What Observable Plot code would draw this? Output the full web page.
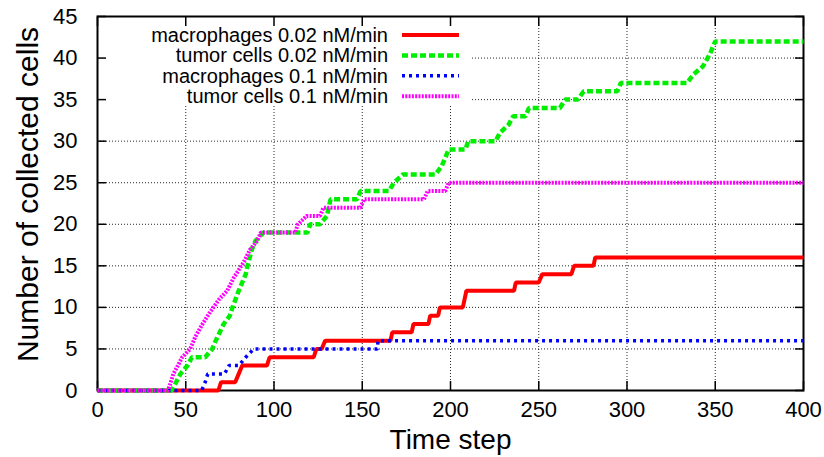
<!DOCTYPE html>
<html>
<head>
<meta charset="utf-8">
<script src="https://cdn.jsdelivr.net/npm/d3@7"></script>
<script src="https://cdn.jsdelivr.net/npm/@observablehq/plot@0.6"></script>
<style>
  body { margin: 0; background: #fff; }
  svg { display: block; }
</style>
</head>
<body>
<div id="chart"></div>
<script>
// Cumulative number of collected cells per time step, one series per cell type and rate.
const seriesNames = [
  "macrophages 0.02 nM/min",
  "tumor cells 0.02 nM/min",
  "macrophages 0.1 nM/min",
  "tumor cells 0.1 nM/min"
];

const macro002Time = [0, 68.5, 70, 78, 80, 82, 96, 97.5, 122.5, 124, 127, 129, 166, 167, 178, 179, 187.5, 188.5, 193, 194, 207, 209, 236, 237, 250, 252, 268.5, 270, 281, 282, 400];
const macro002Count = [0, 0, 1, 1, 2, 3, 3, 4, 4, 5, 5, 6, 6, 7, 7, 8, 8, 9, 9, 10, 10, 12, 12, 13, 13, 14, 14, 15, 15, 16, 16];

const tumor002Time = [0, 42, 44.5, 47, 51, 53.5, 61, 65, 67, 71.5, 75, 76.5, 80, 84, 85, 87.5, 89.5, 94, 119, 120.5, 126, 130, 132, 147, 149, 165, 168, 173, 191.5, 195, 197, 199, 208.5, 210, 225.5, 228, 233, 235.5, 242.5, 244.5, 262, 265, 272, 275.5, 294.5, 296.5, 334, 337.5, 343, 347, 350, 400];
const tumor002Count = [0, 0, 1, 2, 3, 4, 4, 5, 6, 8, 9, 10, 12, 14, 15, 17, 18, 19, 19, 20, 20, 21, 23, 23, 24, 24, 25, 26, 26, 27, 28, 29, 29, 30, 30, 31, 32, 33, 33, 34, 34, 35, 35, 36, 36, 37, 37, 38, 39, 40.5, 42, 42];

const macro01Time = [0, 59, 61, 62.5, 72, 74.5, 80, 84, 88.5, 158.5, 159, 400];
const macro01Count = [0, 0, 1, 2, 2, 3, 3, 4, 5, 5, 6, 6];

const tumor01Time = [0, 40, 43, 48, 52.5, 55.5, 59.5, 64, 69, 73.5, 77, 83, 86.5, 90.5, 92.5, 112, 113.5, 118.5, 126, 128, 149, 151, 185, 187, 197, 199, 400];
const tumor01Count = [0, 0, 2, 4, 5, 6.5, 8, 9.5, 11, 12, 13.5, 15.5, 17, 18, 19, 19, 20, 21, 21, 22, 22, 23, 23, 24, 24, 25, 25];

const xTicks = [0, 50, 100, 150, 200, 250, 300, 350, 400];
const yTicks = [0, 5, 10, 15, 20, 25, 30, 35, 40, 45];

const seriesData = [
  [macro002Time, macro002Count],
  [tumor002Time, tumor002Count],
  [macro01Time, macro01Count],
  [tumor01Time, tumor01Count]
];

const styles = [
  {stroke: "#ff0000", strokeWidth: 4, strokeDasharray: null},
  {stroke: "#00ee00", strokeWidth: 4.5, strokeDasharray: "6,3"},
  {stroke: "#0000ff", strokeWidth: 3.5, strokeDasharray: "3,4"},
  {stroke: "#ff00ff", strokeWidth: 4, strokeDasharray: "2,1.3"}
];

const rows = seriesData.map(([ts, ns], i) =>
  ts.map((t, j) => ({series: seriesNames[i], t, n: ns[j]}))
);

const font = "'Liberation Sans', Arial, Helvetica, sans-serif";
const gridStyle = {stroke: "#000", strokeOpacity: 0.85, strokeWidth: 1, strokeDasharray: "1,2"};

const chart = Plot.plot({
  width: 824,
  height: 457,
  marginLeft: 97,
  marginRight: 21,
  marginTop: 16,
  marginBottom: 67,
  style: {fontFamily: font, fontSize: "22px", color: "#000", background: "#fff"},
  x: {domain: [0, 400]},
  y: {domain: [0, 45]},
  marks: [
    Plot.gridX(xTicks, gridStyle),
    Plot.gridY(yTicks, gridStyle),
    // inward ticks on all four sides
    Plot.axisX(xTicks, {anchor: "bottom", tickSize: 9, dy: -9, fill: "none", label: null, strokeWidth: 1.5}),
    Plot.axisX(xTicks, {anchor: "top", tickSize: 9, dy: 9, fill: "none", label: null, strokeWidth: 1.5}),
    Plot.axisY(yTicks, {anchor: "left", tickSize: 9, dx: 9, fill: "none", label: null, strokeWidth: 1.5}),
    Plot.axisY(yTicks, {anchor: "right", tickSize: 9, dx: -9, fill: "none", label: null, strokeWidth: 1.5}),
    // tick labels
    Plot.axisX(xTicks, {anchor: "bottom", tickSize: 0, tickPadding: 11, label: null}),
    Plot.axisY(yTicks, {anchor: "left", tickSize: 0, tickPadding: 20, label: null}),
    Plot.frame({stroke: "#000", strokeWidth: 2}),
    ...rows.map((data, i) => Plot.line(data, {x: "t", y: "n", ...styles[i], strokeLinejoin: "miter", strokeLinecap: "butt"})),
    Plot.text(["Time step"], {frameAnchor: "bottom", dy: 50, fontSize: 28, lineAnchor: "middle", textAnchor: "middle"}),
    Plot.text(["Number of collected cells"], {frameAnchor: "left", dx: -60, dy: -9, rotate: -90, fontSize: 30, lineAnchor: "bottom", textAnchor: "middle"})
  ]
});

document.getElementById("chart").append(chart);

// Key in the upper-left corner, on an opaque background that hides the grid behind it.
const svg = d3.select(chart);
const gridNodes = chart.querySelectorAll('[aria-label="y-grid"]');
const keyBg = document.createElementNS("http://www.w3.org/2000/svg", "rect");
keyBg.setAttribute("x", 98);
keyBg.setAttribute("y", 17);
keyBg.setAttribute("width", 374);
keyBg.setAttribute("height", 89);
keyBg.setAttribute("fill", "#fff");
gridNodes[gridNodes.length - 1].after(keyBg);

const key = svg.append("g").attr("font-family", font).attr("font-size", 20);
seriesNames.forEach((name, i) => {
  const y = 35 + i * 20.4;
  key.append("text")
    .attr("x", 388).attr("y", y).attr("dy", "0.35em")
    .attr("text-anchor", "end").attr("fill", "#000")
    .text(name);
  key.append("line")
    .attr("x1", 402).attr("x2", 459).attr("y1", y).attr("y2", y)
    .attr("stroke", styles[i].stroke)
    .attr("stroke-width", styles[i].strokeWidth)
    .attr("stroke-dasharray", styles[i].strokeDasharray);
});
</script>
</body>
</html>
